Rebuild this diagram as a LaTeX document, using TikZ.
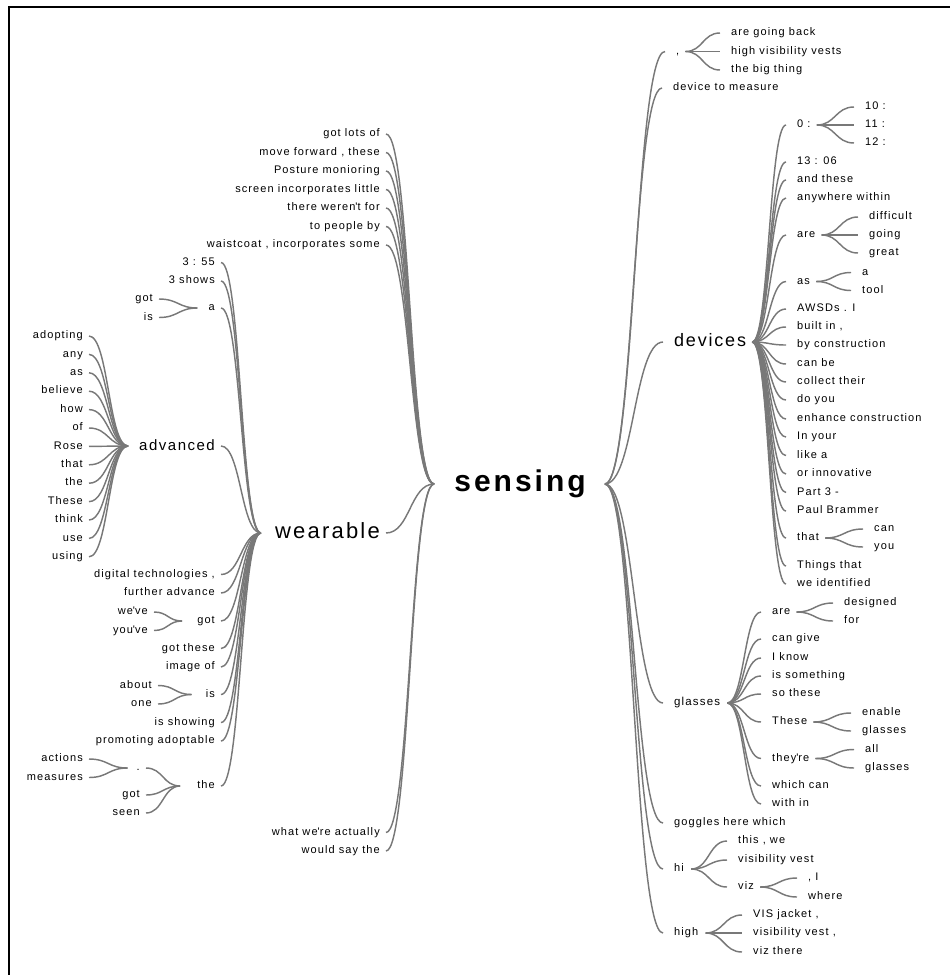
\documentclass[tikz,border=0pt]{standalone}
\usepackage{fontspec}
\setmainfont{Liberation Sans}[LetterSpace=10]
\definecolor{lk}{RGB}{120,120,120}
\newcommand\wL[5][wt]{\node[#1,anchor=east] (#2) at (#3,#4) {#5};}
\newcommand\wR[5][wt]{\node[#1,anchor=west] (#2) at (#3,#4) {#5};}
\newcommand\linkR[2]{\path ([xshift=-11pt]#2.west) coordinate (c) (#1) coordinate (p);
  \path (p) -- coordinate (m) (c);
  \draw[link] (p) .. controls (m |- p) and (m |- c) .. (c);}
\newcommand\linkL[2]{\path ([xshift=6pt]#2.east) coordinate (c) (#1) coordinate (p);
  \path (p) -- coordinate (m) (c);
  \draw[link] (p) .. controls (m |- p) and (m |- c) .. (c);}
\begin{document}
\begin{tikzpicture}[x=1pt,y=-1pt,
  wt/.style={inner sep=0pt,text height=8pt,text depth=2.5pt,font=\fontsize{11}{13}\selectfont},
  wgl/.style={inner sep=0pt,text height=8.5pt,text depth=2.6pt,font=\fontsize{11.5}{13}\selectfont},
  wadv/.style={inner sep=0pt,text height=11pt,text depth=3pt,font=\fontsize{15}{18}\selectfont},
  wdev/.style={inner sep=0pt,text height=13pt,text depth=3.7pt,font=\fontsize{18}{21}\selectfont},
  wwear/.style={inner sep=0pt,text height=16pt,text depth=4.5pt,font=\fontsize{22}{26}\selectfont},
  wroot/.style={inner sep=0pt,text height=21.5pt,text depth=6.2pt,font=\fontsize{30}{35}\selectfont\bfseries},
  link/.style={draw=lk,line width=1.45pt}]
\useasboundingbox (0,0) rectangle (950,975);
\draw[line width=1.8pt] (9,975) -- (9,7) -- (950,7);

% root
\node[wroot,anchor=center] (sensing) at (520,484) {sensing};
\coordinate (sensingL) at ([xshift=-20pt]sensing.west);
\coordinate (sensingR) at ([xshift=19pt]sensing.east);

% ---------- left side of sensing
\wL{s1}{380}{134}{got lots of}
\wL{s2}{380}{152.5}{move forward , these}
\wL{s3}{380}{171}{Posture monioring}
\wL{s4}{380}{189.5}{screen incorporates little}
\wL{s5}{380}{208}{there weren\textquotesingle t for}
\wL{s6}{380}{226.5}{to people by}
\wL{s7}{380}{245}{waistcoat , incorporates some}
\wL[wwear]{wear}{380}{533}{wearable}
\wL{s8}{380}{832.5}{what we\textquotesingle re actually}
\wL{s9}{380}{851}{would say the}
\foreach \n in {s1,s2,s3,s4,s5,s6,s7,wear,s8,s9} {\linkL{sensingL}{\n}}

% ---------- wearable
\coordinate (wearF) at ([xshift=-14pt]wear.west);
\wL{w1}{215}{262.5}{3 : 55}
\wL{w2}{215}{281}{3 shows}
\wL{wa}{215}{308}{a}
\wL[wadv]{adv}{215}{446}{advanced}
\wL{w5}{215}{574.5}{digital technologies ,}
\wL{w6}{215}{593}{further advance}
\wL{wgot}{215}{621}{got}
\wL{w8}{215}{648.5}{got these}
\wL{w9}{215}{667}{image of}
\wL{wis}{215}{694.5}{is}
\wL{w11}{215}{722.5}{is showing}
\wL{w12}{215}{741}{promoting adoptable}
\wL{wthe}{215}{786}{the}
\foreach \n in {w1,w2,wa,adv,w5,w6,wgot,w8,w9,wis,w11,w12,wthe} {\linkL{wearF}{\n}}

% a
\coordinate (waF) at ([xshift=-11pt]wa.west);
\wL{wa1}{153}{299}{got}
\wL{wa2}{153}{317.5}{is}
\linkL{waF}{wa1} \linkL{waF}{wa2}

% advanced
\coordinate (advF) at ([xshift=-11pt]adv.west);
\wL{ad1}{83}{336}{adopting}
\wL{ad2}{83}{354.4}{any}
\wL{ad3}{83}{372.8}{as}
\wL{ad4}{83}{391.2}{believe}
\wL{ad5}{83}{409.6}{how}
\wL{ad6}{83}{428}{of}
\wL{ad7}{83}{446.4}{Rose}
\wL{ad8}{83}{464.8}{that}
\wL{ad9}{83}{483.2}{the}
\wL{ad10}{83}{501.6}{These}
\wL{ad11}{83}{520}{think}
\wL{ad12}{83}{538.4}{use}
\wL{ad13}{83}{556.8}{using}
\foreach \n in {ad1,ad2,ad3,ad4,ad5,ad6,ad7,ad8,ad9,ad10,ad11,ad12,ad13} {\linkL{advF}{\n}}

% got
\coordinate (wgotF) at ([xshift=-15pt]wgot.west);
\wL{wg1}{148}{612}{we\textquotesingle ve}
\wL{wg2}{148}{630.5}{you\textquotesingle ve}
\linkL{wgotF}{wg1} \linkL{wgotF}{wg2}

% is
\coordinate (wisF) at ([xshift=-14pt]wis.west);
\wL{wi1}{152}{685.5}{about}
\wL{wi2}{152}{704}{one}
\linkL{wisF}{wi1} \linkL{wisF}{wi2}

% the
\coordinate (wtheF) at ([xshift=-17pt]wthe.west);
\wL{wdot}{140}{768}{.}
\wL{wt2}{140}{795}{got}
\wL{wt3}{140}{813}{seen}
\linkL{wtheF}{wdot} \linkL{wtheF}{wt2} \linkL{wtheF}{wt3}
\coordinate (wdotF) at ([xshift=-9pt]wdot.west);
\wL{wd1}{83}{759}{actions}
\wL{wd2}{83}{777.5}{measures}
\linkL{wdotF}{wd1} \linkL{wdotF}{wd2}

% ---------- right side of sensing
\wR{comma}{676}{51.5}{,}
\wR{r2}{673}{88}{device to measure}
\wR[wdev]{dev}{674}{342}{devices}
\wR[wgl]{gl}{674}{703}{glasses}
\wR{r5}{674}{823}{goggles here which}
\wR{hi}{674}{869}{hi}
\wR{high}{674}{933}{high}
\foreach \n in {comma,r2,dev,gl,r5,hi,high} {\linkR{sensingR}{\n}}

% comma
\coordinate (commaF) at ([xshift=6pt]comma.east);
\wR{c1}{731}{33}{are going back}
\wR{c2}{731}{51.5}{high visibility vests}
\wR{c3}{731}{70}{the big thing}
\linkR{commaF}{c1} \linkR{commaF}{c2} \linkR{commaF}{c3}

% devices
\coordinate (devF) at ([xshift=6pt]dev.east);
\wR{d1}{797}{125}{0 :}
\wR{d2}{797}{162}{13 : 06}
\wR{d3}{797}{180}{and these}
\wR{d4}{797}{198}{anywhere within}
\wR{d5}{797}{235}{are}
\wR{d6}{797}{281.5}{as}
\wR{d7}{797}{309}{AWSDs . I}
\wR{d8}{797}{327}{built in ,}
\wR{d9}{797}{345}{by construction}
\wR{d10}{797}{364}{can be}
\wR{d11}{797}{382}{collect their}
\wR{d12}{797}{400}{do you}
\wR{d13}{797}{419}{enhance construction}
\wR{d14}{797}{437}{In your}
\wR{d15}{797}{455.5}{like a}
\wR{d16}{797}{474}{or innovative}
\wR{d17}{797}{492.5}{Part 3 -}
\wR{d18}{797}{511}{Paul Brammer}
\wR{d19}{797}{538}{that}
\wR{d20}{797}{566}{Things that}
\wR{d21}{797}{584}{we identified}
\foreach \n in {d1,d2,d3,d4,d5,d6,d7,d8,d9,d10,d11,d12,d13,d14,d15,d16,d17,d18,d19,d20,d21} {\linkR{devF}{\n}}

\coordinate (d1F) at ([xshift=6pt]d1.east);
\wR{d1a}{865}{107}{10 :}
\wR{d1b}{865}{125}{11 :}
\wR{d1c}{865}{143}{12 :}
\linkR{d1F}{d1a} \linkR{d1F}{d1b} \linkR{d1F}{d1c}

\coordinate (d5F) at ([xshift=6pt]d5.east);
\wR{d5a}{869}{217}{difficult}
\wR{d5b}{869}{235}{going}
\wR{d5c}{869}{253}{great}
\linkR{d5F}{d5a} \linkR{d5F}{d5b} \linkR{d5F}{d5c}

\coordinate (d6F) at ([xshift=6pt]d6.east);
\wR{d6a}{862}{272.5}{a}
\wR{d6b}{862}{290.5}{tool}
\linkR{d6F}{d6a} \linkR{d6F}{d6b}

\coordinate (d19F) at ([xshift=6pt]d19.east);
\wR{d19a}{874}{529}{can}
\wR{d19b}{874}{547}{you}
\linkR{d19F}{d19a} \linkR{d19F}{d19b}

% glasses
\coordinate (glF) at ([xshift=7pt]gl.east);
\wR{g1}{772}{612}{are}
\wR{g2}{772}{639}{can give}
\wR{g3}{772}{658}{I know}
\wR{g4}{772}{676}{is something}
\wR{g5}{772}{694}{so these}
\wR{g6}{772}{722}{These}
\wR{g7}{772}{758.5}{they\textquotesingle re}
\wR{g8}{772}{786}{which can}
\wR{g9}{772}{804}{with in}
\foreach \n in {g1,g2,g3,g4,g5,g6,g7,g8,g9} {\linkR{glF}{\n}}

\coordinate (g1F) at ([xshift=6pt]g1.east);
\wR{g1a}{844}{603}{designed}
\wR{g1b}{844}{621}{for}
\linkR{g1F}{g1a} \linkR{g1F}{g1b}

\coordinate (g6F) at ([xshift=6pt]g6.east);
\wR{g6a}{862}{713}{enable}
\wR{g6b}{862}{731}{glasses}
\linkR{g6F}{g6a} \linkR{g6F}{g6b}

\coordinate (g7F) at ([xshift=6pt]g7.east);
\wR{g7a}{865}{749.5}{all}
\wR{g7b}{865}{768}{glasses}
\linkR{g7F}{g7a} \linkR{g7F}{g7b}

% hi
\coordinate (hiF) at ([xshift=7pt]hi.east);
\wR{h1}{738}{841}{this , we}
\wR{h2}{738}{860}{visibility vest}
\wR{hviz}{738}{887}{viz}
\linkR{hiF}{h1} \linkR{hiF}{h2} \linkR{hiF}{hviz}
\coordinate (hvizF) at ([xshift=6pt]hviz.east);
\wR{hv1}{808}{878}{, I}
\wR{hv2}{808}{897}{where}
\linkR{hvizF}{hv1} \linkR{hvizF}{hv2}

% high
\coordinate (highF) at ([xshift=7pt]high.east);
\wR{hh1}{753}{915}{VIS jacket ,}
\wR{hh2}{753}{933}{visibility vest ,}
\wR{hh3}{753}{952}{viz there}
\linkR{highF}{hh1} \linkR{highF}{hh2} \linkR{highF}{hh3}
\end{tikzpicture}
\end{document}
